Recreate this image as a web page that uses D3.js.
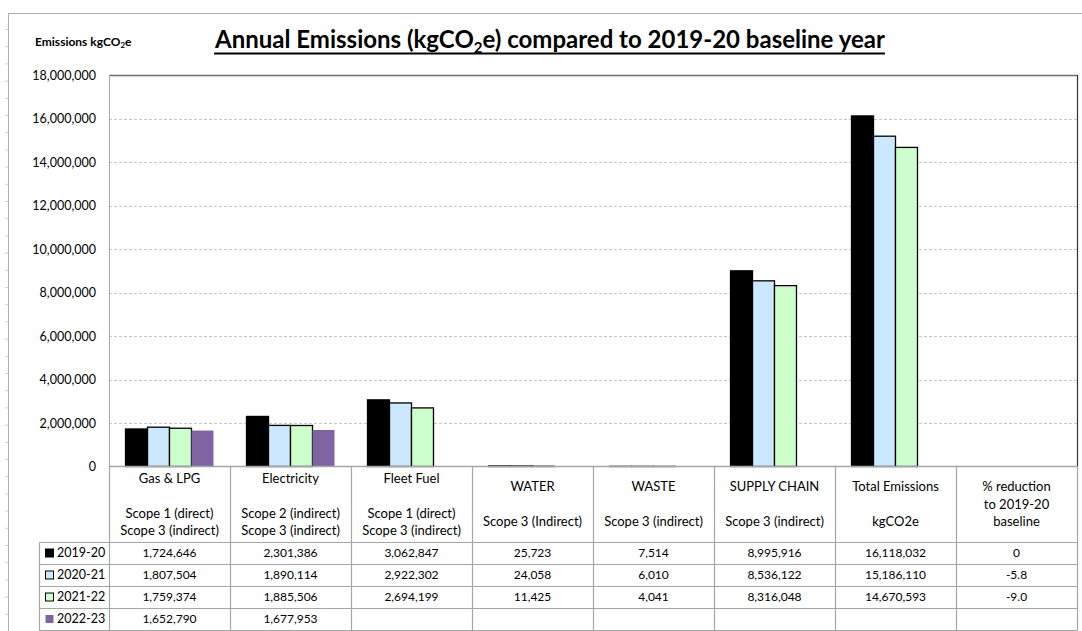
<!DOCTYPE html>
<html>
<head>
<meta charset="utf-8">
<script src="https://cdn.jsdelivr.net/npm/d3@7"></script>
<style>
  body { margin: 0; background: #fff; }
  svg { display: block; font-family: Lato, Carlito, "Liberation Sans", sans-serif; }
</style>
</head>
<body>
<div id="chart"></div>
<script>
// categories (table columns), the last one only lives in the table
const categories = ["Gas & LPG", "Electricity", "Fleet Fuel", "WATER", "WASTE", "SUPPLY CHAIN", "Total Emissions", "% reduction"];
const headerLines = [
  ["Gas & LPG", "", "Scope 1 (direct)", "Scope 3 (indirect)"],
  ["Electricity", "", "Scope 2 (indirect)", "Scope 3 (indirect)"],
  ["Fleet Fuel", "", "Scope 1 (direct)", "Scope 3 (indirect)"],
  ["WATER", "", "Scope 3 (Indirect)"],
  ["WASTE", "", "Scope 3 (indirect)"],
  ["SUPPLY CHAIN", "", "Scope 3 (indirect)"],
  ["Total Emissions", "", "kgCO2e"],
  ["% reduction", "to 2019-20", "baseline"]
];

const years = ["2019-20", "2020-21", "2021-22", "2022-23"];
const colors = ["#000000", "#cce8ff", "#ccffcc", "#8064a2"];

// kgCO2e per category, null = no value
const v2019 = [1724646, 2301386, 3062847, 25723, 7514, 8995916, 16118032];
const v2020 = [1807504, 1890114, 2922302, 24058, 6010, 8536122, 15186110];
const v2021 = [1759374, 1885506, 2694199, 11425, 4041, 8316048, 14670593];
const v2022 = [1652790, 1677953, null, null, null, null, null];
const pctReduction = [0, -5.8, -9.0, null];

const yTicks = [0, 2000000, 4000000, 6000000, 8000000, 10000000, 12000000, 14000000, 16000000, 18000000];

const series = [v2019, v2020, v2021, v2022];

const W = 1082, H = 631;
const plot = { left: 109, right: 1077, top: 75, bottom: 466.5 };
const tableTop = 542, rowH = 22;
const legendLeft = 39;
const gridCol = "#a6a6a6";
const textSize = "13px", numSize = "12px";

const svg = d3.select("#chart").append("svg")
  .attr("width", W).attr("height", H);

// sheet frame bits behind the chart
svg.append("line").attr("x1", 8).attr("x2", W).attr("y1", 13.5).attr("y2", 13.5)
  .attr("stroke", "#b0b0b0");
svg.append("line").attr("x1", 8.5).attr("x2", 8.5).attr("y1", 13).attr("y2", H)
  .attr("stroke", "#b0b0b0");
svg.selectAll("line.rowtick").data(d3.range(0, 36)).enter().append("line")
  .attr("class", "rowtick")
  .attr("x1", 5).attr("x2", 8)
  .attr("y1", d => 29.5 + d * 17.2).attr("y2", d => 29.5 + d * 17.2)
  .attr("stroke", "#d0d0d0");

const x = d3.scaleBand()
  .domain(categories)
  .range([plot.left, plot.right])
  .paddingInner(0.273)
  .paddingOuter(0.1365);

const xs = d3.scaleBand()
  .domain(years)
  .range([0, x.bandwidth()]);

const y = d3.scaleLinear()
  .domain([0, 18000000])
  .range([plot.bottom, plot.top]);

// gridlines
svg.append("g")
  .selectAll("line")
  .data(yTicks.filter(d => d > 0 && d < 18000000))
  .enter().append("line")
  .attr("x1", plot.left).attr("x2", plot.right)
  .attr("y1", d => Math.round(y(d)) + 0.5).attr("y2", d => Math.round(y(d)) + 0.5)
  .attr("stroke", "#c8c8c8")
  .attr("stroke-dasharray", "3,2");

// y axis labels
const yAxis = svg.append("g")
  .attr("transform", `translate(${plot.left},0)`)
  .call(d3.axisLeft(y).tickValues(yTicks).tickFormat(d3.format(",")).tickSize(0).tickPadding(13));
yAxis.select(".domain").remove();
yAxis.selectAll("text").attr("font-size", "12.5px").attr("fill", "#000")
  .attr("font-family", "Lato, Carlito, sans-serif");

// plot borders
svg.append("line").attr("x1", plot.left).attr("x2", plot.right)
  .attr("y1", plot.top + 0.5).attr("y2", plot.top + 0.5).attr("stroke", "#6f6f6f").attr("stroke-width", 1.3);
svg.append("line").attr("x1", plot.right + 0.5).attr("x2", plot.right + 0.5)
  .attr("y1", plot.top).attr("y2", plot.bottom).attr("stroke", "#333").attr("stroke-width", 1.2);
svg.append("line").attr("x1", plot.left + 0.5).attr("x2", plot.left + 0.5)
  .attr("y1", plot.top).attr("y2", plot.bottom).attr("stroke", gridCol);

// bars
const barData = [];
series.forEach((vals, si) => {
  vals.forEach((v, ci) => {
    if (v != null) barData.push({ year: years[si], cat: categories[ci], value: v, si: si });
  });
});

svg.append("g")
  .selectAll("rect")
  .data(barData)
  .enter().append("rect")
  .attr("x", d => x(d.cat) + xs(d.year))
  .attr("y", d => y(d.value))
  .attr("width", xs.bandwidth())
  .attr("height", d => y(0) - y(d.value))
  .attr("fill", d => colors[d.si])
  .attr("stroke", d => d.si === 3 ? "none" : "#000")
  .attr("stroke-width", 1.3);

// ---- data table ----
const tbl = svg.append("g");
const rowY = d3.scaleBand().domain(years).range([tableTop, tableTop + rowH * years.length]);
const tableBottom = tableTop + rowH * years.length;

// horizontal lines
tbl.append("line").attr("x1", plot.left).attr("x2", plot.right)
  .attr("y1", plot.bottom).attr("y2", plot.bottom).attr("stroke", gridCol).attr("stroke-width", 1.3);
tbl.selectAll("line.hrow").data(d3.range(0, years.length + 1)).enter().append("line")
  .attr("class", "hrow")
  .attr("x1", legendLeft).attr("x2", plot.right)
  .attr("y1", d => tableTop + d * rowH + 0.5).attr("y2", d => tableTop + d * rowH + 0.5)
  .attr("stroke", gridCol).attr("stroke-width", 1.2);

// vertical lines
const colEdges = categories.map(c => x(c) - x.step() * x.paddingInner() / 2).concat([plot.right]);
tbl.selectAll("line.vcol").data(colEdges).enter().append("line")
  .attr("class", "vcol")
  .attr("x1", d => Math.round(d) + 0.5).attr("x2", d => Math.round(d) + 0.5)
  .attr("y1", plot.bottom).attr("y2", tableBottom + 0.5)
  .attr("stroke", gridCol).attr("stroke-width", 1.2);
tbl.append("line").attr("x1", legendLeft + 0.5).attr("x2", legendLeft + 0.5)
  .attr("y1", tableTop).attr("y2", tableBottom + 0.5).attr("stroke", gridCol).attr("stroke-width", 1.2);

// header text, vertically centred in the header cell
const headMid = (plot.bottom + tableTop) / 2;
const lineH = 17.5;
categories.forEach((c, ci) => {
  const lines = headerLines[ci];
  const cx = x(c) + x.bandwidth() / 2;
  const t = tbl.append("text")
    .attr("text-anchor", "middle")
    .attr("font-size", textSize)
    .attr("fill", "#000");
  lines.forEach((ln, li) => {
    t.append("tspan")
      .attr("x", cx)
      .attr("y", headMid + (li - (lines.length - 1) / 2) * lineH)
      .attr("dy", "0.35em")
      .text(ln);
  });
});

// values
const fmt = d3.format(",");
series.forEach((vals, si) => {
  const cy = rowY(years[si]) + rowH / 2;
  vals.forEach((v, ci) => {
    if (v == null) return;
    tbl.append("text")
      .attr("x", x(categories[ci]) + x.bandwidth() / 2)
      .attr("y", cy).attr("dy", "0.35em")
      .attr("text-anchor", "middle").attr("font-size", numSize)
      .text(fmt(v));
  });
  const p = pctReduction[si];
  if (p != null) {
    tbl.append("text")
      .attr("x", x(categories[7]) + x.bandwidth() / 2)
      .attr("y", cy).attr("dy", "0.35em")
      .attr("text-anchor", "middle").attr("font-size", numSize)
      .text(p === 0 ? "0" : p.toFixed(1));
  }
});

// legend keys in the first column
years.forEach((yr, si) => {
  const cy = rowY(yr) + rowH / 2;
  tbl.append("rect")
    .attr("x", 45.5).attr("y", cy - 4)
    .attr("width", 8).attr("height", 8)
    .attr("fill", colors[si])
    .attr("stroke", si === 3 ? "none" : "#000");
  tbl.append("text")
    .attr("x", 57).attr("y", cy).attr("dy", "0.35em")
    .attr("font-size", "12.5px")
    .text(yr);
});

// ---- titles ----
const title = svg.append("text")
  .attr("x", 550).attr("y", 48)
  .attr("text-anchor", "middle")
  .attr("font-size", "24px").attr("font-weight", "bold");
title.append("tspan").text("Annual Emissions (kgCO");
title.append("tspan").attr("font-size", "15px").attr("dy", 5).text("2");
title.append("tspan").attr("dy", -5).text("e) compared to 2019-20 baseline year");
const tb = title.node().getBBox();
svg.append("line")
  .attr("x1", tb.x).attr("x2", tb.x + tb.width)
  .attr("y1", 53.5).attr("y2", 53.5)
  .attr("stroke", "#000").attr("stroke-width", 1.8);

const ylab = svg.append("text")
  .attr("x", 35).attr("y", 46)
  .attr("font-size", "12px").attr("font-weight", "bold");
ylab.append("tspan").text("Emissions kgCO");
ylab.append("tspan").attr("font-size", "8px").attr("dy", 2).text("2");
ylab.append("tspan").attr("dy", -2).text("e");
</script>
</body>
</html>
